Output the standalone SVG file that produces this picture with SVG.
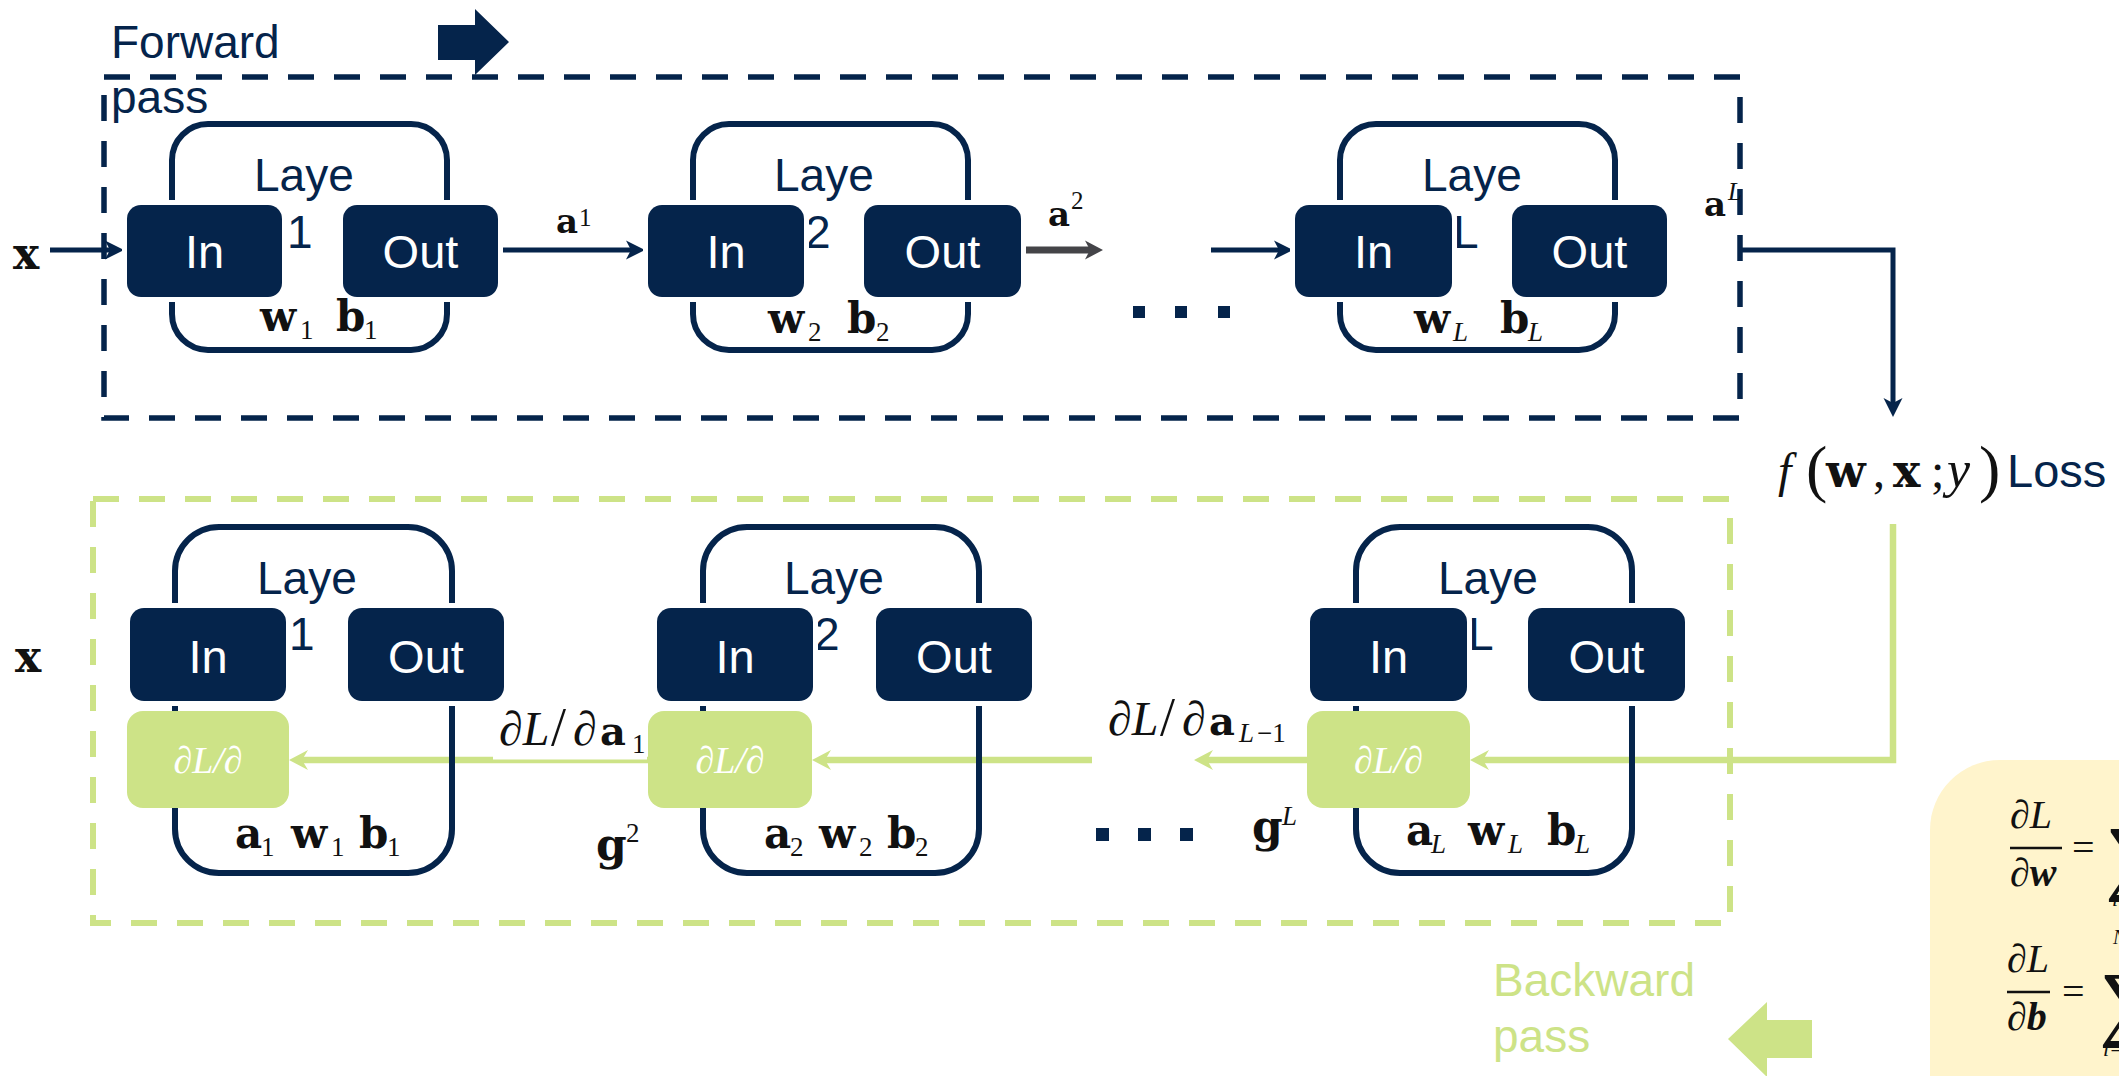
<svg xmlns="http://www.w3.org/2000/svg" width="2119" height="1076" viewBox="0 0 2119 1076">
<style>
.bg{fill:#fff}
.dashN{fill:none;stroke:#05244b;stroke-width:5.5;stroke-dasharray:26 20}
.dashG{fill:none;stroke:#cde387;stroke-width:6;stroke-dasharray:26 20}
.cont{fill:none;stroke:#05244b;stroke-width:6}
.box{fill:#05244b;stroke:#fff;stroke-width:10;paint-order:stroke}
.gbox{fill:#cde387}
.lbl{font-family:"Liberation Sans",Arial,sans-serif;font-size:46px;fill:#05244b}
.bt{font-family:"Liberation Sans",Arial,sans-serif;font-size:47px;fill:#fff;text-anchor:middle}
.gt{font-family:"Liberation Serif","DejaVu Serif",serif;font-style:italic;font-size:38px;fill:#fff;text-anchor:middle}
.m{font-family:"Liberation Serif","DejaVu Serif",serif;fill:#111}
.mb{font-family:"DejaVu Serif",serif;font-weight:bold;font-size:42px}
.ms{font-size:27px}
.mi{font-style:italic}
.aN{fill:none;stroke:#05244b;stroke-width:5}
.aG{fill:none;stroke:#cde387;stroke-width:6.5}
.aK{fill:none;stroke:#444448;stroke-width:7}
.dot{fill:#05244b}
.cm{font-family:"Liberation Serif","DejaVu Serif",serif;fill:#111;font-size:40px}
</style>
<defs>
<marker id="hN" viewBox="0 -10 19 20" refX="9" refY="0" markerWidth="19" markerHeight="20" markerUnits="userSpaceOnUse" orient="auto"><path d="M0,-9.5 L19,0 L0,9.5 L5,0 z" fill="#05244b"/></marker>
<marker id="hG" viewBox="0 -10 19 20" refX="9" refY="0" markerWidth="19" markerHeight="20" markerUnits="userSpaceOnUse" orient="auto"><path d="M0,-10 L19,0 L0,10 L6,0 z" fill="#cde387"/></marker>
<marker id="hK" viewBox="0 -10 19 20" refX="9" refY="0" markerWidth="19" markerHeight="20" markerUnits="userSpaceOnUse" orient="auto"><path d="M0,-9.5 L18,0 L0,9.5 L5,0 z" fill="#444448"/></marker>
</defs>
<rect class="bg" x="0" y="0" width="2119" height="1076"/>

<!-- Forward pass frame -->
<g id="forward-frame">
<rect class="dashN" x="104" y="77" width="1636" height="341"/>
<text class="lbl" x="111" y="58">Forward</text>
<text class="lbl" x="111" y="113">pass</text>
<polygon fill="#05244b" points="438,25 475,25 475,9 509,42 475,75 475,60 438,60"/>
</g>

<!-- Backward pass frame -->
<g id="backward-frame">
<rect class="dashG" x="93" y="499" width="1637" height="424"/>
<text class="lbl" x="1493" y="996" style="fill:#cde387">Backward</text>
<text class="lbl" x="1493" y="1052" style="fill:#cde387">pass</text>
<polygon fill="#cde387" points="1812,1020 1767,1020 1767,1002 1728,1039 1767,1077 1767,1058 1812,1058"/>
</g>

<!-- connectors -->
<g id="connectors">
<path class="aN" d="M50,250 H114" marker-end="url(#hN)"/>
<path class="aN" d="M503,250 H635" marker-end="url(#hN)"/>
<path class="aK" d="M1023,250 H1094" marker-end="url(#hK)"/>
<path class="aN" d="M1211,250 H1283" marker-end="url(#hN)"/>
<path class="aN" d="M1740,250 H1893 V407" stroke-linejoin="miter" marker-end="url(#hN)"/>
<path class="aG" d="M1893,524 V760 H1480" stroke-linejoin="miter" marker-end="url(#hG)"/>
<path class="aG" d="M1307,760 H1204" marker-end="url(#hG)"/>
<path class="aG" d="M1092,760 H822" marker-end="url(#hG)"/>
<path class="aG" d="M648,760 H299" marker-end="url(#hG)"/>
</g>

<!-- connector labels -->
<g id="edge-labels">
<text class="m" x="13" y="269" style="font-family:'DejaVu Serif',serif;font-weight:bold;font-size:44px">x</text>
<text class="m" x="15" y="672" style="font-family:'DejaVu Serif',serif;font-weight:bold;font-size:44px">x</text>
<text class="m" x="556" y="233"><tspan class="mb" style="font-size:34px">a</tspan><tspan x="579" y="226" style="font-size:25px">1</tspan></text>
<text class="m" x="1048" y="226"><tspan class="mb" style="font-size:34px">a</tspan><tspan x="1071" y="209" style="font-size:25px">2</tspan></text>
<text class="m" x="1704" y="216"><tspan class="mb" style="font-size:34px">a</tspan><tspan x="1728" y="200" style="font-size:25px;font-style:italic">L</tspan></text>
<rect x="1133" y="306" width="12" height="12" class="dot"/>
<rect x="1175" y="306" width="12" height="12" class="dot"/>
<rect x="1218" y="306" width="12" height="12" class="dot"/>
<rect x="1096" y="828" width="13" height="13" class="dot"/>
<rect x="1138" y="828" width="13" height="13" class="dot"/>
<rect x="1180" y="828" width="13" height="13" class="dot"/>
<rect x="493" y="710" width="154" height="49.5" fill="#fff"/>
<text class="m" y="745" style="font-size:48px"><tspan x="499" class="mi">∂L</tspan><tspan x="551" style="font-size:54px">/</tspan><tspan x="573" class="mi">∂</tspan><tspan x="600" class="mb" style="font-size:40px">a</tspan><tspan x="632" y="753" style="font-size:27px">1</tspan></text>
<text class="m" y="735" style="font-size:48px"><tspan x="1108" class="mi">∂L</tspan><tspan x="1160" style="font-size:54px">/</tspan><tspan x="1182" class="mi">∂</tspan><tspan x="1209" class="mb" style="font-size:40px">a</tspan><tspan x="1239" y="742" style="font-size:27px" class="mi">L</tspan><tspan x="1257" y="742" style="font-size:27px">−1</tspan></text>
<text class="m" x="596" y="860"><tspan class="mb" style="font-size:44px">g</tspan><tspan x="626" y="842" style="font-size:27px">2</tspan></text>
<text class="m" x="1252" y="842"><tspan class="mb" style="font-size:44px">g</tspan><tspan x="1282" y="825" style="font-size:27px;font-style:italic">L</tspan></text>
</g>

<!-- Loss node -->
<g id="loss">
<text class="m" y="487" style="font-size:48px"><tspan x="1778" class="mi">f</tspan><tspan x="1806" y="490" style="font-size:64px">(</tspan><tspan x="1826" y="487" class="mb" style="font-size:46px">w</tspan><tspan x="1873">,</tspan><tspan x="1893" class="mb" style="font-size:46px">x</tspan><tspan x="1931">;</tspan><tspan x="1947" class="mi" style="font-size:52px">y</tspan><tspan x="1979" y="490" style="font-size:64px">)</tspan></text>
<text class="lbl" x="2007" y="487" style="font-size:47px">Loss</text>
</g>

<!-- forward layers -->
<g id="f-layer1">
<rect class="cont" x="172" y="124" width="275" height="226" rx="36"/>
<rect x="255" y="300" width="128" height="47" fill="#fff"/>
<text class="lbl" x="254" y="191">Laye</text>
<text class="lbl" x="287" y="248">1</text>
<rect class="box" x="127" y="205" width="155" height="92" rx="14"/>
<text class="bt" x="204.5" y="268">In</text>
<rect class="box" x="343" y="205" width="155" height="92" rx="14"/>
<text class="bt" x="420.5" y="268">Out</text>
<text class="m" y="331"><tspan x="260" class="mb">w</tspan><tspan x="300" y="339" class="ms">1</tspan><tspan x="336" y="331" class="mb">b</tspan><tspan x="364" y="339" class="ms">1</tspan></text>
</g>
<g id="f-layer2">
<rect class="cont" x="693" y="124" width="275" height="226" rx="36"/>
<rect x="766" y="300" width="127" height="47" fill="#fff"/>
<text class="lbl" x="774" y="191">Laye</text>
<text class="lbl" x="805" y="248">2</text>
<rect class="box" x="648" y="205" width="156" height="92" rx="14"/>
<text class="bt" x="726" y="268">In</text>
<rect class="box" x="864" y="205" width="157" height="92" rx="14"/>
<text class="bt" x="942.5" y="268">Out</text>
<text class="m" y="333"><tspan x="768" class="mb">w</tspan><tspan x="808" y="341" class="ms">2</tspan><tspan x="847" y="333" class="mb">b</tspan><tspan x="876" y="341" class="ms">2</tspan></text>
</g>
<g id="f-layerL">
<rect class="cont" x="1340" y="124" width="275" height="226" rx="36"/>
<rect x="1412" y="300" width="147" height="47" fill="#fff"/>
<text class="lbl" x="1422" y="191">Laye</text>
<text class="lbl" x="1453" y="248">L</text>
<rect class="box" x="1295" y="205" width="157" height="92" rx="14"/>
<text class="bt" x="1373.5" y="268">In</text>
<rect class="box" x="1512" y="205" width="155" height="92" rx="14"/>
<text class="bt" x="1589.5" y="268">Out</text>
<text class="m" y="333"><tspan x="1414" class="mb">w</tspan><tspan x="1453" y="341" class="ms mi">L</tspan><tspan x="1500" y="333" class="mb">b</tspan><tspan x="1528" y="341" class="ms mi">L</tspan></text>
</g>

<!-- backward layers -->
<g id="b-layer1">
<rect class="cont" x="175" y="527" width="277" height="346" rx="44"/>
<text class="lbl" x="257" y="594">Laye</text>
<text class="lbl" x="289" y="650">1</text>
<rect class="box" x="130" y="608" width="156" height="93" rx="14"/>
<text class="bt" x="208" y="673">In</text>
<rect class="box" x="348" y="608" width="156" height="93" rx="14"/>
<text class="bt" x="426" y="673">Out</text>
<rect class="gbox" x="127" y="711" width="162" height="97" rx="16"/>
<text class="gt" x="208" y="773">∂L/∂</text>
<text class="m" y="848"><tspan x="235" class="mb">a</tspan><tspan x="261" y="856" class="ms">1</tspan><tspan x="291" y="848" class="mb">w</tspan><tspan x="331" y="856" class="ms">1</tspan><tspan x="359" y="848" class="mb">b</tspan><tspan x="387" y="856" class="ms">1</tspan></text>
</g>
<g id="b-layer2">
<rect class="cont" x="703" y="527" width="276" height="346" rx="44"/>
<text class="lbl" x="784" y="594">Laye</text>
<text class="lbl" x="814" y="650">2</text>
<rect class="box" x="657" y="608" width="156" height="93" rx="14"/>
<text class="bt" x="735" y="673">In</text>
<rect class="box" x="876" y="608" width="156" height="93" rx="14"/>
<text class="bt" x="954" y="673">Out</text>
<rect class="gbox" x="648" y="711" width="164" height="97" rx="16"/>
<text class="gt" x="730" y="773">∂L/∂</text>
<text class="m" y="848"><tspan x="764" class="mb">a</tspan><tspan x="790" y="856" class="ms">2</tspan><tspan x="819" y="848" class="mb">w</tspan><tspan x="859" y="856" class="ms">2</tspan><tspan x="887" y="848" class="mb">b</tspan><tspan x="915" y="856" class="ms">2</tspan></text>
</g>
<g id="b-layerL">
<rect class="cont" x="1356" y="527" width="276" height="346" rx="44"/>
<text class="lbl" x="1438" y="594">Laye</text>
<text class="lbl" x="1468" y="650">L</text>
<rect class="box" x="1310" y="608" width="157" height="93" rx="14"/>
<text class="bt" x="1388.5" y="673">In</text>
<rect class="box" x="1528" y="608" width="157" height="93" rx="14"/>
<text class="bt" x="1606.5" y="673">Out</text>
<rect class="gbox" x="1307" y="711" width="163" height="97" rx="16"/>
<text class="gt" x="1388.5" y="773">∂L/∂</text>
<text class="m" y="845"><tspan x="1406" class="mb">a</tspan><tspan x="1431" y="853" class="ms mi">L</tspan><tspan x="1468" y="845" class="mb">w</tspan><tspan x="1508" y="853" class="ms mi">L</tspan><tspan x="1547" y="845" class="mb">b</tspan><tspan x="1575" y="853" class="ms mi">L</tspan></text>
</g>

<!-- gradient formula box -->
<g id="formula">
<rect x="1930" y="760" width="300" height="400" rx="70" fill="#fff4cc"/>
<text class="cm mi" x="2010" y="828">∂L</text>
<line x1="2010" y1="848" x2="2062" y2="848" stroke="#111" stroke-width="2.5"/>
<text class="cm" x="2010" y="886"><tspan class="mi">∂</tspan><tspan style="font-weight:bold;font-style:italic">w</tspan></text>
<text class="cm" x="2072" y="861">=</text>
<text class="cm" x="2105" y="884" style="font-size:84px">∑</text>
<text class="cm mi" x="2112" y="906" style="font-size:22px">i</text>
<text class="cm mi" x="2113" y="944" style="font-size:20px">N</text>
<text class="cm mi" x="2007" y="972">∂L</text>
<line x1="2007" y1="992" x2="2050" y2="992" stroke="#111" stroke-width="2.5"/>
<text class="cm" x="2007" y="1030"><tspan class="mi">∂</tspan><tspan style="font-weight:bold;font-style:italic">b</tspan></text>
<text class="cm" x="2062" y="1005">=</text>
<text class="cm" x="2099" y="1030" style="font-size:84px">∑</text>
<text class="cm mi" x="2103" y="1056" style="font-size:22px">i=</text>
</g>
</svg>
